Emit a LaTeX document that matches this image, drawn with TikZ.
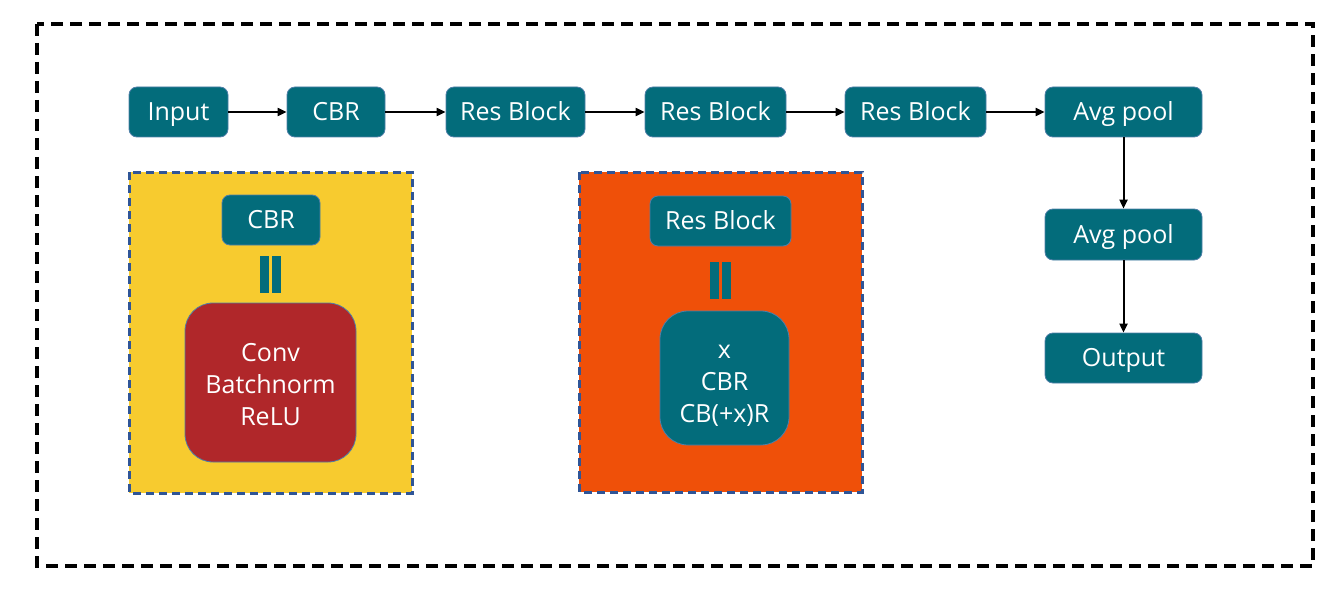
\documentclass[tikz,border=0pt]{standalone}
\usepackage{fontspec}
\setmainfont{Open Sans}
\usetikzlibrary{arrows.meta}
\definecolor{teal}{HTML}{036C7B}
\definecolor{tealedge}{HTML}{4F7FA8}
\definecolor{sunny}{HTML}{F7CB2F}
\definecolor{flame}{HTML}{EF5009}
\definecolor{brick}{HTML}{B0272A}
\definecolor{dashblue}{HTML}{2F5597}
\tikzset{
  blk/.style={fill=teal, draw=tealedge, line width=0.8pt, rounded corners=8pt,
    text=white, inner sep=0pt, font=\fontsize{25}{32}\selectfont,
    text height=17.9pt, text depth=0pt},
  bigblk/.style={fill=teal, draw=tealedge, line width=0.8pt, rounded corners=28pt,
    text=white, inner sep=0pt, font=\fontsize{25}{32}\selectfont, align=center},
  flow/.style={line width=2pt, -{Triangle[length=9pt,width=8pt]}},
  panel/.style={draw=dashblue, line width=3pt, dash pattern=on 8pt off 5pt},
  eqbar/.style={fill=teal, draw=none},
}
\begin{document}
\begin{tikzpicture}[x=1pt,y=-1pt]
\useasboundingbox (0,0) rectangle (1344,599);
% outer frame
\draw[line width=3.2pt, dash pattern=on 12pt off 7pt] (37,24) rectangle (1313,566);

% main pipeline
\node[blk, minimum width=99pt, minimum height=50pt] (in)  at (178.5,112) {Input};
\node[blk, minimum width=98pt, minimum height=50pt] (cbr) at (336,112) {CBR};
\node[blk, minimum width=139pt, minimum height=50pt] (rb1) at (515.5,112) {Res Block};
\node[blk, minimum width=141pt, minimum height=50pt] (rb2) at (715.5,112) {Res Block};
\node[blk, minimum width=141pt, minimum height=50pt] (rb3) at (915.5,112) {Res Block};
\node[blk, minimum width=157pt, minimum height=50pt] (ap1) at (1123.5,112) {Avg pool};
\node[blk, minimum width=157pt, minimum height=51pt] (ap2) at (1123.5,234.5) {Avg pool};
\node[blk, minimum width=157pt, minimum height=50pt] (out) at (1123.5,358) {Output};

\draw[flow] (in) -- (cbr);
\draw[flow] (cbr) -- (rb1);
\draw[flow] (rb1) -- (rb2);
\draw[flow] (rb2) -- (rb3);
\draw[flow] (rb3) -- (ap1);
\draw[flow] (ap1) -- (ap2);
\draw[flow] (ap2) -- (out);

% CBR detail panel
\fill[sunny] (129,172) rectangle (412,493);
\draw[panel] (129,172) rectangle (412,493);
\node[blk, minimum width=98pt, minimum height=50pt] (cbrk) at (271,220) {CBR};
\fill[eqbar] (260,256) rectangle (269,293);
\fill[eqbar] (272,256) rectangle (281,293);
\node[bigblk, fill=brick, minimum width=171pt, minimum height=159pt] (cbrdef) at (270.5,382.5)
  {\rule{0pt}{22pt}Conv\\Batchnorm\\ReLU};

% Res Block detail panel
\fill[flame] (579,172) rectangle (862,492);
\draw[panel] (579,172) rectangle (862,492);
\node[blk, minimum width=141pt, minimum height=50pt] (rbk) at (720.5,221) {Res Block};
\fill[eqbar] (710,262) rectangle (719,299);
\fill[eqbar] (722,262) rectangle (731,299);
\node[bigblk, minimum width=129pt, minimum height=134pt] (rbdef) at (724.5,378)
  {\rule{0pt}{28pt}x\\CBR\\CB(+x)R};
\end{tikzpicture}
\end{document}
